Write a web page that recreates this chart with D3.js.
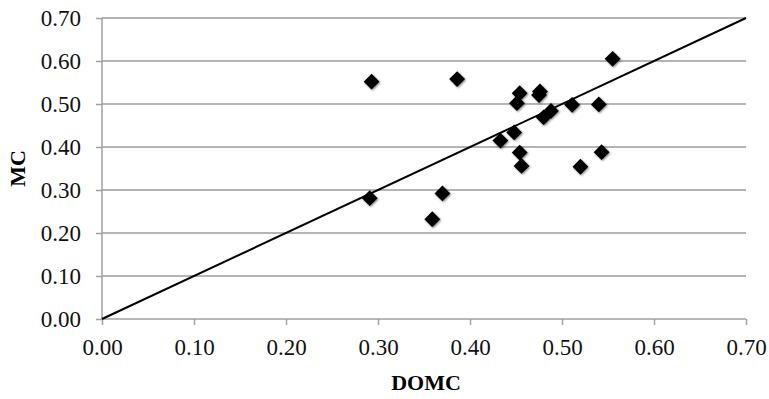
<!DOCTYPE html>
<html>
<head>
<meta charset="utf-8">
<script src="https://cdn.jsdelivr.net/npm/d3@7"></script>
<style>
  body { margin: 0; background: #fff; }
  svg { display: block; }
</style>
</head>
<body>
<script>
// DOMC vs MC scatter with 1:1 line
let domc = [0.293, 0.291, 0.386, 0.555, 0.359, 0.370, 0.433, 0.448, 0.454, 0.456,
            0.451, 0.454, 0.475, 0.476, 0.480, 0.488, 0.511, 0.540, 0.520, 0.543];
let mc   = [0.552, 0.281, 0.558, 0.605, 0.232, 0.292, 0.415, 0.434, 0.387, 0.356,
            0.502, 0.525, 0.521, 0.529, 0.469, 0.484, 0.498, 0.499, 0.354, 0.388];
let lineX = [0.00, 0.70];
let lineY = [0.00, 0.70];
let ticks = [0.00, 0.10, 0.20, 0.30, 0.40, 0.50, 0.60, 0.70];

let width = 769, height = 399;
let margin = {top: 18, right: 23, bottom: 80, left: 102};

let svg = d3.select("body").append("svg")
    .attr("width", width)
    .attr("height", height);

let defs = svg.append("defs");
let f = defs.append("filter").attr("id", "shadow")
    .attr("x", "-50%").attr("y", "-50%").attr("width", "200%").attr("height", "200%");
f.append("feGaussianBlur").attr("in", "SourceAlpha").attr("stdDeviation", 1.2).attr("result", "b");
f.append("feOffset").attr("in", "b").attr("dx", 1).attr("dy", 1).attr("result", "o");
f.append("feComponentTransfer").attr("in", "o").attr("result", "s")
  .append("feFuncA").attr("type", "linear").attr("slope", 0.5);
let m = f.append("feMerge");
m.append("feMergeNode").attr("in", "s");
m.append("feMergeNode").attr("in", "SourceGraphic");

let x = d3.scaleLinear([0, 0.7], [margin.left, width - margin.right]);
let y = d3.scaleLinear([0, 0.7], [height - margin.bottom, margin.top]);

// gridlines
svg.append("g")
    .selectAll("line")
    .data(ticks.slice(1))
    .join("line")
      .attr("x1", margin.left)
      .attr("x2", width - margin.right)
      .attr("y1", d => y(d))
      .attr("y2", d => y(d))
      .attr("stroke", "#b4b4b4")
      .attr("stroke-width", 2);

// axes
let xAxis = svg.append("g")
    .attr("transform", `translate(0,${height - margin.bottom})`)
    .call(d3.axisBottom(x).tickValues(ticks).tickFormat(d3.format(".2f")).tickSize(6).tickPadding(14));
let yAxis = svg.append("g")
    .attr("transform", `translate(${margin.left},0)`)
    .call(d3.axisLeft(y).tickValues(ticks).tickFormat(d3.format(".2f")).tickSize(6).tickPadding(15));

[xAxis, yAxis].forEach(g => {
    g.select(".domain").attr("stroke", "#a0a0a0").attr("stroke-width", 1.5);
    g.selectAll(".tick line").attr("stroke", "#a0a0a0").attr("stroke-width", 1.5);
    g.selectAll(".tick text")
        .attr("fill", "#111")
        .style("font-family", "'Liberation Serif', 'Times New Roman', serif")
        .style("font-size", "23px");
});
xAxis.select(".domain").attr("d", `M${margin.left},0H${width - margin.right}`);
yAxis.select(".domain").attr("d", `M0,${height - margin.bottom}V${margin.top}`);

// 1:1 line
svg.append("path")
    .datum(d3.zip(lineX, lineY))
    .attr("fill", "none")
    .attr("stroke", "#000")
    .attr("stroke-width", 2)
    .attr("d", d3.line().x(d => x(d[0])).y(d => y(d[1])));

// points
let sym = d3.symbol(d3.symbolSquare, 125);
svg.append("g")
    .attr("filter", "url(#shadow)")
    .selectAll("path")
    .data(d3.zip(domc, mc))
    .join("path")
      .attr("d", sym)
      .attr("transform", d => `translate(${x(d[0])},${y(d[1])}) rotate(45)`)
      .attr("fill", "#000");

// axis titles
svg.append("text")
    .attr("x", (margin.left + width - margin.right) / 2 + 2)
    .attr("y", 390)
    .attr("text-anchor", "middle")
    .style("font-family", "'Liberation Serif', 'Times New Roman', serif")
    .style("font-size", "22px")
    .style("font-weight", "bold")
    .text("DOMC");

svg.append("text")
    .attr("transform", `translate(25,${(margin.top + height - margin.bottom) / 2}) rotate(-90)`)
    .attr("text-anchor", "middle")
    .style("font-family", "'Liberation Serif', 'Times New Roman', serif")
    .style("font-size", "22px")
    .style("font-weight", "bold")
    .text("MC");
</script>
</body>
</html>
